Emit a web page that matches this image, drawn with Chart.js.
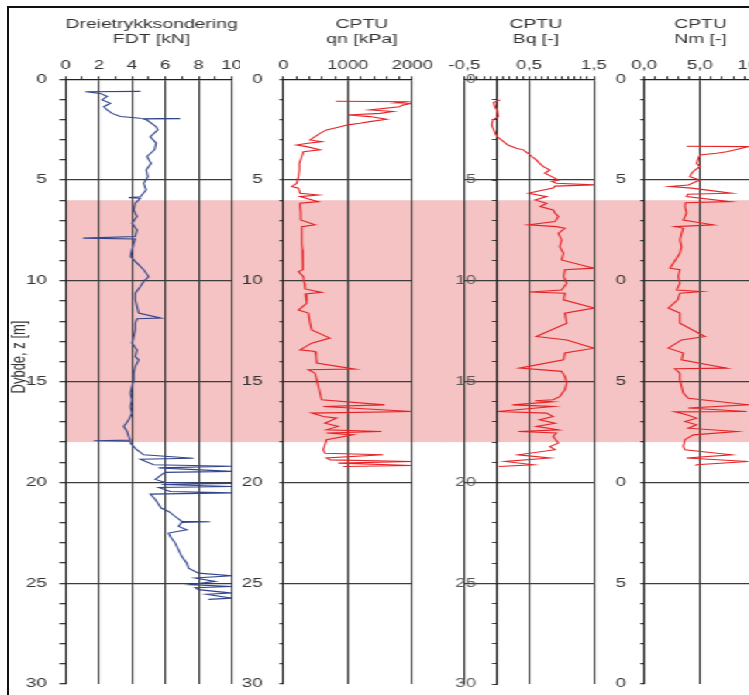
<!DOCTYPE html>
<html>
<head>
<meta charset="utf-8">
<title>Dreietrykksondering og CPTU</title>
<script src="https://cdn.jsdelivr.net/npm/chart.js@4.4.1/dist/chart.umd.min.js"></script>
<style>
  html, body { margin: 0; padding: 0; background: #fff; width: 749px; height: 695px; overflow: hidden; }
  /* the whole log strip is drawn narrow and widened horizontally */
  #strip { position: absolute; left: 0; top: 0; width: 520px; height: 695px;
           transform: scaleX(1.55); transform-origin: 0 0; }
  #strip canvas { position: absolute; top: 0; }
  #frame { position: absolute; left: 7px; top: 6px; width: 800px; height: 720px;
           border-left: 2px solid #111; border-top: 2px solid #111; pointer-events: none; }
</style>
</head>
<body>
<div id="strip">
  <canvas id="fdt" width="155" height="695" style="left:0px"></canvas>
  <canvas id="qn"  width="132" height="695" style="left:154px"></canvas>
  <canvas id="bq"  width="113" height="695" style="left:285px"></canvas>
  <canvas id="nm"  width="123" height="695" style="left:397px"></canvas>
</div>
<div id="frame"></div>
<script>
// ---- sounding data: depth [m] and measured value ----
const fdtDepth = [
  0.60, 0.62, 0.70, 0.85, 1.02, 1.19, 1.36, 1.52, 1.69, 1.85,
  1.93, 1.95, 1.97, 2.02, 2.35, 2.51, 2.85, 3.17, 3.50, 3.83,
  4.17, 4.50, 4.83, 5.16, 5.49, 5.83, 5.87, 5.90, 6.15, 6.48,
  6.81, 7.14, 7.47, 7.80, 7.88, 7.92, 8.13, 8.46, 8.79, 9.12,
  9.45, 9.79, 10.03, 10.28, 10.61, 10.94, 11.27, 11.60, 11.85, 11.88,
  12.10, 12.43, 12.76, 13.09, 13.42, 13.76, 13.92, 14.25, 14.58, 14.91,
  15.24, 15.57, 15.90, 16.23, 16.56, 16.89, 17.22, 17.47, 17.72, 17.90,
  17.93, 17.96, 18.05, 18.39, 18.63, 18.80, 18.85, 19.12, 19.20, 19.28,
  19.45, 19.50, 19.60, 19.85, 20.00, 20.05, 20.10, 20.20, 20.25, 20.45,
  20.52, 20.58, 20.85, 21.27, 21.44, 21.69, 21.93, 21.95, 21.98, 22.18,
  22.35, 22.51, 22.68, 23.01, 23.35, 23.68, 24.01, 24.25, 24.50, 24.63,
  24.74, 24.91, 25.07, 25.16, 25.22, 25.32, 25.49, 25.55, 25.74, 25.80
];
const fdtForce = [
  4.5, 1.2, 2.1, 2.5, 2.2, 2.7, 2.3, 2.5, 2.8, 3.3,
  4.5, 6.9, 4.7, 4.9, 5.45, 5.55, 5.1, 5.45, 5.35, 4.9,
  5.15, 4.85, 4.95, 4.7, 4.85, 4.5, 3.8, 4.5, 4.2, 4.1,
  4.3, 4.0, 4.3, 4.2, 1.06, 4.2, 4.1, 4.0, 3.9, 4.3,
  4.7, 5.0, 4.7, 4.5, 4.2, 4.2, 4.3, 4.4, 5.75, 4.3,
  4.2, 4.2, 4.1, 4.0, 4.3, 4.2, 4.4, 4.2, 4.1, 4.1,
  4.0, 3.9, 4.0, 3.9, 4.0, 3.8, 3.5, 3.7, 3.8, 3.9,
  1.7, 3.9, 3.9, 4.3, 4.7, 7.7, 4.5, 5.3, 10.0, 5.6,
  10.0, 6.0, 5.8, 5.4, 6.0, 10.0, 5.8, 10.0, 5.6, 6.3,
  10.0, 5.1, 5.4, 5.75, 6.2, 6.6, 7.0, 8.7, 7.0, 6.8,
  7.3, 6.2, 6.3, 6.6, 6.8, 7.0, 7.3, 7.4, 8.0, 10.0,
  7.8, 9.0, 7.5, 10.0, 7.8, 8.0, 10.0, 8.5, 10.0, 8.6
];

const qnDepth = [
  1.09, 1.11, 1.17, 1.19, 1.28, 1.36, 1.52, 1.60, 1.69, 1.77,
  1.85, 1.98, 2.10, 2.18, 2.26, 2.38, 2.51, 2.68, 2.84, 3.01,
  3.09, 3.17, 3.26, 3.34, 3.50, 3.59, 3.83, 4.17, 4.50, 4.83,
  5.16, 5.32, 5.40, 5.65, 5.74, 5.82, 6.07, 6.15, 6.31, 6.64,
  6.98, 7.22, 7.31, 7.80, 8.13, 8.46, 8.79, 9.12, 9.45, 9.54,
  9.79, 10.12, 10.40, 10.57, 10.65, 11.11, 11.45, 11.60, 12.10, 12.43,
  12.84, 13.09, 13.42, 13.50, 13.75, 14.08, 14.38, 14.41, 14.58, 14.91,
  15.24, 15.57, 15.90, 16.15, 16.23, 16.48, 16.56, 16.73, 16.81, 17.06,
  17.22, 17.39, 17.47, 17.55, 17.64, 17.88, 18.13, 18.38, 18.55, 18.63,
  18.79, 18.88, 18.96, 19.04, 19.16, 19.21
];
const qnValue = [
  815, 1900, 1750, 2000, 1850, 1800, 1340, 1700, 1500, 1000,
  1340, 1600, 1340, 1190, 1000, 850, 670, 567, 490, 412,
  593, 380, 206, 361, 567, 310, 284, 247, 247, 232,
  206, 129, 232, 258, 541, 258, 541, 258, 258, 268,
  268, 490, 284, 284, 284, 294, 294, 299, 309, 232,
  309, 325, 335, 593, 340, 361, 232, 387, 412, 438,
  722, 438, 258, 490, 505, 515, 1108, 386, 490, 515,
  541, 567, 593, 1572, 618, 2000, 438, 618, 825, 644,
  850, 670, 1520, 670, 1082, 670, 644, 618, 644, 1546,
  670, 722, 2000, 850, 2000, 928
];

const bqDepth = [
  1.02, 1.15, 1.35, 1.52, 1.85, 2.02, 2.26, 2.42, 2.84, 3.01,
  3.26, 3.42, 3.50, 3.67, 3.83, 4.00, 4.17, 4.33, 4.50, 4.66,
  4.83, 5.00, 5.07, 5.16, 5.24, 5.30, 5.40, 5.57, 5.65, 5.82,
  5.99, 6.15, 6.31, 6.48, 6.64, 6.81, 7.06, 7.22, 7.31, 7.39,
  7.64, 7.97, 8.30, 8.63, 8.96, 9.37, 9.45, 9.79, 10.12, 10.45,
  10.55, 10.61, 10.94, 11.35, 11.60, 12.10, 12.76, 12.93, 13.34, 13.58,
  13.92, 14.33, 14.49, 14.74, 15.07, 15.40, 15.74, 15.90, 15.95, 16.00,
  16.15, 16.23, 16.48, 16.56, 16.73, 16.89, 17.06, 17.22, 17.39, 17.47,
  17.55, 17.72, 18.05, 18.22, 18.38, 18.63, 18.79, 18.96, 19.12, 19.21
];
const bqValue = [
  0.05, -0.05, -0.03, 0.00, 0.02, -0.06, -0.08, -0.06, 0.00, 0.07,
  0.17, 0.30, 0.41, 0.48, 0.54, 0.61, 0.66, 0.72, 0.82, 0.74,
  0.85, 0.95, 0.85, 0.92, 1.50, 0.90, 0.87, 0.61, 0.49, 0.77,
  0.59, 0.77, 0.67, 0.87, 0.90, 0.95, 0.90, 0.49, 0.92, 1.05,
  0.95, 1.00, 0.97, 1.03, 1.00, 1.50, 1.05, 1.03, 1.08, 1.00,
  0.51, 1.05, 1.03, 1.50, 1.05, 1.08, 0.61, 1.08, 1.50, 1.05,
  1.03, 0.35, 1.00, 1.05, 1.08, 1.05, 0.97, 0.87, 0.59, 0.85,
  0.24, 0.87, 0.01, 0.77, 0.87, 0.66, 0.90, 0.61, 0.95, 0.33,
  0.92, 0.87, 0.95, 0.82, 0.90, 0.33, 0.82, 0.13, 0.56, 0.03
];

const nmDepth = [
  3.32, 3.34, 3.50, 3.59, 3.67, 3.75, 3.92, 4.17, 4.33, 4.50,
  4.66, 4.83, 5.00, 5.24, 5.32, 5.40, 5.65, 5.70, 5.82, 6.07,
  6.12, 6.31, 6.64, 6.98, 7.22, 7.31, 7.39, 7.64, 7.97, 8.30,
  8.63, 9.37, 9.45, 9.79, 10.12, 10.45, 10.53, 10.61, 10.94, 11.35,
  11.60, 12.10, 12.76, 12.93, 13.34, 13.58, 13.92, 14.33, 14.36, 14.58,
  14.91, 15.24, 15.57, 15.82, 16.15, 16.31, 16.48, 16.50, 16.64, 16.81,
  16.98, 17.14, 17.31, 17.47, 17.64, 17.88, 18.22, 18.38, 18.63, 18.79,
  18.96, 19.12, 19.17
];
const nmValue = [
  3.8, 9.4, 8.2, 7.4, 6.5, 5.0, 4.85, 4.7, 5.0, 4.55,
  4.25, 4.1, 5.0, 3.95, 2.3, 4.25, 7.8, 3.9, 3.8, 7.7,
  3.7, 3.65, 3.8, 3.5, 6.2, 2.75, 3.5, 3.35, 3.2, 3.35,
  3.2, 2.3, 3.2, 3.05, 3.2, 2.9, 5.15, 3.2, 3.0, 2.16,
  3.2, 3.2, 5.45, 3.35, 2.16, 3.5, 3.35, 7.4, 2.75, 3.2,
  3.2, 3.35, 3.5, 3.95, 9.34, 3.95, 9.2, 2.75, 3.8, 4.7,
  3.65, 4.7, 3.95, 8.3, 4.4, 3.65, 3.5, 3.65, 7.84, 3.8,
  9.34, 4.7, 4.6
];

// depth interval of the marked layer [m]
const markedLayer = [6, 18];

// axis ranges and labelled tick values
const depthRange = [0, 30];
const fdtRange = [0, 10];    const fdtLabels = [0, 2, 4, 6, 8, 10];
const qnRange = [0, 2000];   const qnLabels = [0, 1000, 2000];
const bqRange = [-0.5, 1.5]; const bqLabels = [-0.5, 0.5, 1.5];
const nmRange = [0, 10];     const nmLabels = [0, 5, 10];

const headings = [
  ['Dreietrykksondering', 'FDT [kN]'],
  ['CPTU', 'qn [kPa]'],
  ['CPTU', 'Bq [-]'],
  ['CPTU', 'Nm [-]']
];
const depthTitle = 'Dybde, z [m]';

// ---- styling ----
const FONT = "'Liberation Sans', Arial, sans-serif";
const TEXT = '#333333';
const GRID = '#3c3c3c';
const AXIS = '#222222';
const BAND = '#f5c3c3';
const BLUE = '#33468c';
const RED = '#e52327';
const NONE = 'rgba(0,0,0,0)';

function steps(from, to, step) {
  const out = [];
  for (let k = 0; from + k * step <= to + 1e-9; k++) out.push(Math.round((from + k * step) * 1000) / 1000);
  return out;
}
const near = (a, b) => Math.abs(a - b) < 1e-6;
const inList = (v, list) => list.some(x => near(x, v));
const commaFmt = (v, digits) => v.toFixed(digits).replace('.', ',');
const depthTicks = steps(depthRange[0], depthRange[1], 1);
const isDepthGrid = v => v % 5 === 0 && v > depthRange[0] && v < depthRange[1];

// pink band over the marked layer, behind grid and curves
const layerBand = {
  id: 'layerBand',
  beforeDraw(chart, args, opts) {
    const { ctx, chartArea } = chart;
    const y = chart.scales.y;
    const top = y.getPixelForValue(markedLayer[0]);
    const bottom = y.getPixelForValue(markedLayer[1]);
    const x0 = opts.fromArea ? chartArea.left : 0;
    ctx.save();
    ctx.fillStyle = BAND;
    ctx.fillRect(x0, top, chart.width - x0, bottom - top);
    ctx.restore();
  }
};

// two-line panel heading above the top axis, optional rotated depth title
const panelText = {
  id: 'panelText',
  afterDraw(chart, args, opts) {
    const { ctx, chartArea } = chart;
    const cx = (chartArea.left + chartArea.right) / 2 + opts.shift;
    ctx.save();
    ctx.fillStyle = TEXT;
    ctx.textAlign = 'center';
    ctx.textBaseline = 'middle';
    ctx.font = `12.5px ${FONT}`;
    opts.lines.forEach((t, i) => ctx.fillText(t, cx, opts.rows[i]));
    if (opts.sideTitle) {
      ctx.translate(opts.sideAt[0], opts.sideAt[1]);
      ctx.rotate(-Math.PI / 2);
      ctx.font = `13px ${FONT}`;
      ctx.fillText(opts.sideTitle, 0, 0);
    }
    ctx.restore();
  }
};

// the depth scales span exactly the plot height: no extra room for end labels
function depthScale(extra, width) {
  return Object.assign({
    type: 'linear', reverse: true, min: depthRange[0], max: depthRange[1],
    afterBuildTicks: s => { s.ticks = depthTicks.map(v => ({ value: v })); },
    afterFit: s => {
      if (width !== undefined) s.width = width;
      s.paddingTop = 0; s.paddingBottom = 0;
    }
  }, extra);
}

function makePanel(id, cfg) {
  const xTicks = steps(cfg.range[0], cfg.range[1], cfg.minor);
  const labelFont = { family: FONT, size: 12 };

  const scales = {
    x: {
      type: 'linear', position: 'top', min: cfg.range[0], max: cfg.range[1],
      afterBuildTicks: s => { s.ticks = xTicks.map(v => ({ value: v })); },
      afterFit: s => { s.height = 79.3; s.paddingLeft = 0; s.paddingRight = 0; },
      grid: {
        color: c => (c.tick && inList(c.tick.value, cfg.gridAt)) ? GRID : NONE,
        tickColor: GRID, tickLength: 3, lineWidth: 1.1
      },
      border: { display: true, color: AXIS, width: 1.2 },
      ticks: {
        autoSkip: false, maxRotation: 0, padding: 3, color: TEXT, font: labelFont,
        callback: v => (inList(v, cfg.labels) ? cfg.fmt(v) : '')
      }
    },
    y: depthScale({
      position: 'left',
      grid: {
        color: c => (c.tick && isDepthGrid(c.tick.value)) ? GRID : NONE,
        tickColor: GRID, tickLength: cfg.yTick, lineWidth: 1.3,
        drawTicks: !cfg.markAtZero
      },
      border: { display: !cfg.markAtZero, color: AXIS, width: 1.1 },
      ticks: {
        autoSkip: false, padding: cfg.yPad, color: cfg.yColor || TEXT, font: labelFont,
        mirror: !!cfg.markAtZero, crossAlign: cfg.markAtZero ? 'far' : 'near',
        callback: v => (v % 5 === 0 ? String(v) : '')
      }
    }, cfg.areaLeft)
  };
  if (cfg.markAtZero) {
    // depth tick marks carried on the zero line of Bq
    scales.yMark = depthScale({
      position: { x: 0 },
      grid: { drawOnChartArea: false, drawTicks: true, tickLength: 2.6, tickColor: GRID },
      border: { display: true, color: AXIS, width: 1.1 },
      ticks: { display: false }
    });
  }

  return new Chart(document.getElementById(id), {
    type: 'scatter',
    data: {
      datasets: [{
        data: cfg.depth.map((d, i) => ({ x: cfg.values[i], y: d })),
        showLine: true, borderColor: cfg.color, borderWidth: 1.1,
        pointRadius: 0, pointHoverRadius: 0, tension: 0, fill: false
      }]
    },
    options: {
      responsive: false, animation: false, events: [],
      layout: { autoPadding: false, padding: { left: 0, right: cfg.padRight, top: 0, bottom: 11 } },
      plugins: {
        legend: { display: false }, tooltip: { enabled: false }, title: { display: false },
        layerBand: { fromArea: !!cfg.fromArea },
        panelText: { lines: cfg.heading, shift: cfg.shift, rows: [24.5, 40],
                     sideTitle: cfg.sideTitle, sideAt: [12.9, 357] }
      },
      scales
    },
    plugins: [layerBand, panelText]
  });
}

makePanel('fdt', {
  depth: fdtDepth, values: fdtForce, color: BLUE, range: fdtRange, minor: 1,
  labels: fdtLabels, gridAt: [2, 4, 6, 8, 10], fmt: v => String(v),
  areaLeft: 42.3, padRight: 5.5, yTick: 3.9, yPad: 8.3, fromArea: true,
  heading: headings[0], shift: 1.9, sideTitle: depthTitle
});
makePanel('qn', {
  depth: qnDepth, values: qnValue, color: RED, range: qnRange, minor: 200,
  labels: qnLabels, gridAt: [1000, 2000], fmt: v => String(v),
  areaLeft: 28.9, padRight: 20, yTick: 2.6, yPad: 10.9,
  heading: headings[1], shift: 9.1
});
makePanel('bq', {
  depth: bqDepth, values: bqValue, color: RED, range: bqRange, minor: 0.1,
  labels: bqLabels, gridAt: [-0.5, 0, 0.5, 1.5], fmt: v => commaFmt(v, 1),
  areaLeft: 14.7, padRight: 14.8, yTick: 0, yPad: -5.9, markAtZero: true, yColor: '#5a5a5a',
  heading: headings[2], shift: 4.3
});
makePanel('nm', {
  depth: nmDepth, values: nmValue, color: RED, range: nmRange, minor: 1,
  labels: nmLabels, gridAt: [5, 10], fmt: v => commaFmt(v, 1),
  areaLeft: 18.7, padRight: 32.5, yTick: 2.6, yPad: 9.2,
  heading: headings[3], shift: 0.3
});
</script>
</body>
</html>
